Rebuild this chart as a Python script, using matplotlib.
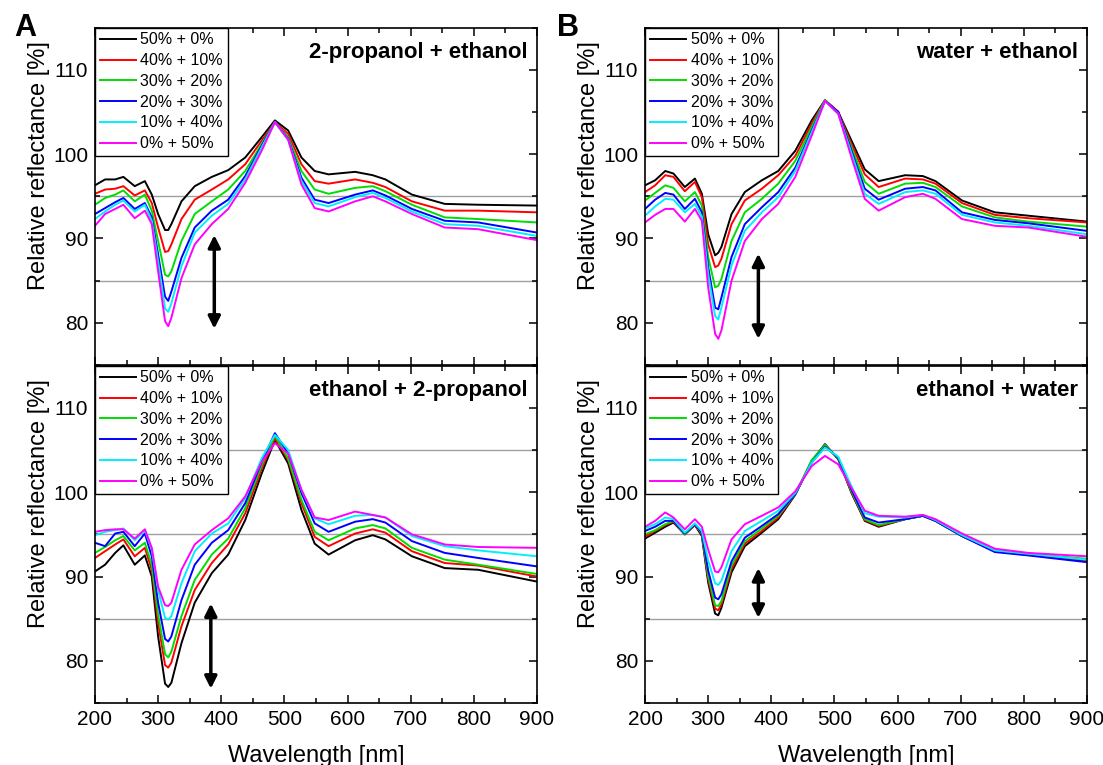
import matplotlib.pyplot as plt
from matplotlib.ticker import MultipleLocator

plt.rcParams['font.family'] = ['Liberation Sans', 'DejaVu Sans']

# wavelength grid [nm] where values were read
wavelength = [200, 216, 232, 245, 263, 279, 290, 300, 311, 316, 321, 337, 358, 385, 411,
              438, 464, 485, 506, 527, 548, 570, 612, 640, 660, 702, 754, 807, 900]

mix_labels = ['50% + 0%', '40% + 10%', '30% + 20%', '20% + 30%', '10% + 40%', '0% + 50%']
colors = ['black', 'red', '#00dd00', 'blue', '#00eeff', 'magenta']

# A top: 2-propanol + ethanol
propanol_ethanol = [
    [96.3, 97.0, 97.0, 97.3, 96.2, 96.8, 95.2, 92.9, 91.0, 91.0, 91.7, 94.4, 96.2, 97.3, 98.1,
     99.6, 102.0, 104.0, 102.8, 99.6, 98.0, 97.6, 97.9, 97.5, 97.0, 95.2, 94.1, 94.0, 93.9],
    [95.3, 95.8, 95.9, 96.2, 95.1, 95.7, 94.2, 91.3, 88.4, 88.5, 89.3, 92.3, 94.6, 95.8, 97.0,
     98.8, 101.6, 103.8, 102.4, 98.8, 96.8, 96.5, 97.0, 96.6, 96.1, 94.4, 93.3, 93.3, 93.1],
    [94.0, 94.8, 95.2, 95.7, 94.4, 95.2, 93.3, 89.7, 85.7, 85.5, 86.1, 89.7, 92.9, 94.4, 95.8,
     98.0, 101.2, 103.8, 102.0, 98.0, 95.8, 95.3, 96.0, 96.2, 95.6, 94.0, 92.5, 92.3, 91.9],
    [92.9, 93.6, 94.3, 94.8, 93.5, 94.2, 92.5, 88.1, 83.1, 82.6, 83.7, 87.7, 91.3, 93.3, 94.6,
     97.4, 101.0, 103.8, 101.8, 97.2, 94.6, 94.2, 95.2, 95.7, 95.1, 93.5, 92.1, 91.9, 90.7],
    [92.3, 93.2, 94.0, 94.5, 93.2, 94.0, 92.1, 87.3, 81.7, 81.3, 82.3, 86.7, 90.7, 92.7, 94.1,
     97.0, 100.8, 103.8, 101.7, 96.8, 94.2, 93.8, 94.9, 95.4, 94.8, 93.2, 91.7, 91.5, 90.3],
    [91.5, 92.9, 93.5, 94.0, 92.4, 93.3, 91.7, 86.1, 80.2, 79.6, 80.6, 85.3, 89.3, 91.7, 93.5,
     96.6, 100.4, 103.8, 101.7, 96.4, 93.6, 93.2, 94.4, 95.0, 94.4, 92.9, 91.3, 91.1, 89.8],
]

# A bottom: ethanol + 2-propanol
ethanol_propanol = [
    [90.6, 91.4, 92.8, 93.7, 91.4, 92.5, 90.0, 82.9, 77.3, 76.9, 77.4, 82.1, 86.9, 90.4, 92.6,
     96.7, 102.2, 106.2, 103.4, 97.9, 93.9, 92.6, 94.3, 94.9, 94.4, 92.4, 91.0, 90.8, 89.4],
    [92.2, 93.0, 93.8, 94.4, 92.4, 93.4, 90.8, 84.5, 79.5, 79.2, 79.8, 84.1, 88.4, 91.6, 93.8,
     97.5, 102.8, 106.4, 103.8, 98.7, 94.7, 93.6, 95.1, 95.6, 95.2, 93.0, 91.6, 91.3, 90.0],
    [92.8, 93.5, 94.3, 94.8, 93.1, 94.0, 91.4, 85.5, 80.8, 80.4, 81.1, 85.3, 89.6, 92.6, 94.5,
     98.1, 103.2, 106.7, 104.0, 99.1, 95.3, 94.3, 95.7, 96.1, 95.7, 93.4, 92.0, 91.4, 90.3],
    [94.0, 93.6, 95.1, 95.3, 93.6, 95.1, 92.4, 86.9, 82.6, 82.3, 82.9, 87.2, 91.4, 94.0, 95.5,
     98.7, 103.6, 107.0, 104.6, 99.9, 96.3, 95.3, 96.5, 96.8, 96.4, 94.2, 92.8, 92.2, 91.2],
    [94.9, 95.3, 95.5, 95.7, 94.3, 95.5, 93.2, 88.4, 85.1, 84.9, 85.3, 89.2, 93.0, 95.1, 96.3,
     99.3, 104.0, 106.8, 105.0, 100.3, 96.9, 96.2, 97.2, 97.3, 97.0, 94.8, 93.6, 93.1, 92.4],
    [95.3, 95.5, 95.6, 95.6, 94.5, 95.6, 93.4, 88.8, 86.6, 86.5, 86.9, 90.8, 93.8, 95.5, 96.9,
     99.5, 103.6, 105.8, 104.6, 100.3, 97.0, 96.7, 97.7, 97.3, 97.0, 95.0, 93.8, 93.5, 93.4],
]

# B top: water + ethanol
water_ethanol = [
    [96.3, 96.9, 98.0, 97.7, 96.1, 97.1, 95.3, 90.5, 88.0, 88.3, 89.0, 92.9, 95.5, 96.9, 98.0,
     100.4, 104.0, 106.4, 105.0, 101.6, 98.2, 96.8, 97.5, 97.4, 96.8, 94.5, 93.1, 92.7, 92.0],
    [95.5, 96.3, 97.5, 97.3, 95.6, 96.7, 94.9, 89.3, 86.6, 86.8, 87.6, 91.7, 94.5, 95.9, 97.5,
     99.8, 103.6, 106.4, 105.0, 101.2, 97.6, 96.1, 97.1, 97.0, 96.5, 94.2, 92.8, 92.4, 91.9],
    [94.5, 95.4, 96.3, 96.0, 94.4, 95.5, 93.9, 87.8, 84.2, 84.4, 85.2, 89.7, 93.1, 94.7, 96.5,
     99.2, 103.2, 106.4, 104.8, 100.8, 96.7, 95.3, 96.5, 96.6, 96.1, 93.8, 92.5, 92.0, 91.4],
    [93.5, 94.6, 95.4, 95.2, 93.5, 94.7, 93.1, 86.6, 81.8, 81.6, 83.0, 87.8, 91.7, 93.7, 95.5,
     98.4, 102.8, 106.3, 105.0, 100.4, 95.9, 94.6, 95.9, 96.1, 95.7, 93.1, 92.2, 91.8, 90.9],
    [92.7, 93.8, 94.7, 94.6, 93.1, 94.1, 92.6, 85.8, 80.8, 80.4, 81.8, 86.8, 90.9, 93.1, 94.9,
     98.0, 102.6, 106.3, 104.8, 100.1, 95.3, 94.1, 95.5, 95.7, 95.3, 92.8, 91.9, 91.5, 90.5],
    [91.9, 92.8, 93.5, 93.5, 92.0, 93.5, 92.1, 84.2, 78.7, 78.1, 79.1, 85.0, 89.7, 92.3, 94.1,
     97.3, 102.2, 106.3, 104.8, 99.6, 94.7, 93.3, 94.9, 95.3, 94.7, 92.3, 91.5, 91.3, 90.2],
]

# B bottom: ethanol + water
ethanol_water = [
    [94.5, 95.2, 95.9, 96.4, 95.0, 96.1, 94.8, 89.3, 85.6, 85.4, 86.3, 90.5, 93.6, 95.2, 96.8,
     99.7, 103.7, 105.7, 103.9, 99.9, 96.6, 95.9, 96.8, 97.2, 96.6, 94.8, 93.0, 92.6, 91.8],
    [94.7, 95.4, 96.1, 96.5, 95.0, 96.1, 95.0, 89.7, 86.2, 86.0, 86.7, 90.9, 93.9, 95.4, 97.0,
     99.8, 103.7, 105.6, 104.0, 100.0, 96.7, 96.0, 96.8, 97.2, 96.6, 94.8, 93.0, 92.6, 91.9],
    [95.0, 95.5, 96.2, 96.6, 95.0, 96.2, 95.1, 90.1, 86.6, 86.5, 87.1, 91.3, 94.2, 95.7, 97.2,
     99.8, 103.8, 105.6, 104.0, 100.1, 96.8, 96.1, 96.8, 97.2, 96.6, 94.8, 93.1, 92.7, 92.1],
    [95.4, 95.9, 96.6, 96.6, 95.1, 96.2, 95.2, 90.7, 87.5, 87.3, 87.9, 91.8, 94.6, 96.0, 97.4,
     99.8, 103.5, 105.4, 104.1, 100.3, 97.0, 96.4, 96.8, 97.2, 96.6, 94.8, 92.9, 92.5, 91.7],
    [95.7, 96.2, 97.0, 96.8, 95.2, 96.3, 95.4, 91.9, 89.2, 89.0, 89.5, 93.0, 95.4, 96.6, 97.8,
     99.9, 103.5, 105.3, 104.2, 100.7, 97.5, 97.1, 97.0, 97.3, 96.7, 94.9, 93.1, 92.7, 92.0],
    [95.9, 96.6, 97.6, 97.0, 95.6, 96.8, 95.9, 93.2, 90.6, 90.5, 91.1, 94.4, 96.2, 97.2, 98.2,
     100.1, 103.1, 104.3, 103.3, 100.5, 97.8, 97.2, 97.1, 97.3, 96.8, 95.1, 93.3, 92.8, 92.4],
]

panel_titles = ['2-propanol + ethanol', 'water + ethanol', 'ethanol + 2-propanol', 'ethanol + water']
panel_data = [propanol_ethanol, water_ethanol, ethanol_propanol, ethanol_water]
# double arrows: x, y start, y end
arrows = [(389, 90.4, 79.3), (379.5, 88.2, 78.1), (383.5, 86.8, 76.7), (379.5, 91.0, 85.1)]
gray_top = [85, 95]
gray_bottom = [85, 95, 105]

fig = plt.figure(figsize=(11.03, 7.65), dpi=100)
lefts = [0.0861, 0.5848]
bottoms = [0.5229, 0.0810]
w, h = 0.4007, 0.4410

for k in range(4):
    row, col = k // 2, k % 2
    ax = fig.add_axes([lefts[col], bottoms[row], w, h])
    for y in (gray_top if row == 0 else gray_bottom):
        ax.axhline(y, color='#a0a0a0', lw=1.0, zorder=0)
    for vals, lab, c in zip(panel_data[k], mix_labels, colors):
        ax.plot(wavelength, vals, color=c, lw=1.4, label=lab)
    ax.set_xlim(200, 900)
    ax.set_ylim(75, 115)
    ax.xaxis.set_major_locator(MultipleLocator(100))
    ax.xaxis.set_minor_locator(MultipleLocator(50))
    ax.yaxis.set_major_locator(MultipleLocator(10))
    ax.yaxis.set_minor_locator(MultipleLocator(5))
    ax.tick_params(which='both', direction='in', top=True, right=True, width=1.1, labelsize=15)
    ax.tick_params(which='major', length=6, pad=5)
    ax.tick_params(which='minor', length=3.5)
    for s in ax.spines.values():
        s.set_linewidth(1.2)
    if row == 0:
        ax.tick_params(labelbottom=False)
    else:
        ax.set_xlabel('Wavelength [nm]', fontsize=17)
        ax.xaxis.set_label_coords(0.5, -0.125)
    ax.set_ylabel('Relative reflectance [%]', fontsize=17)
    ax.yaxis.set_label_coords(-0.102, 0.59)
    leg = ax.legend(loc='upper left', bbox_to_anchor=(0, 1), borderaxespad=0, fontsize=11.5,
                    handlelength=2.25, handletextpad=0.3, labelspacing=0.36, borderpad=0.3,
                    fancybox=False, framealpha=1, edgecolor='black')
    leg.get_frame().set_linewidth(1.0)
    ax.text(0.98, 0.925, panel_titles[k], transform=ax.transAxes, ha='right', va='center',
            fontsize=16, fontweight='bold')
    ax_x, y0, y1 = arrows[k]
    ax.annotate('', xy=(ax_x, y1), xytext=(ax_x, y0),
                arrowprops=dict(arrowstyle='<|-|>', color='black', lw=2.5, mutation_scale=18,
                                shrinkA=0, shrinkB=0))

fig.text(0.0227, 0.963, 'A', fontsize=22, fontweight='bold', ha='center', va='center')
fig.text(0.515, 0.963, 'B', fontsize=22, fontweight='bold', ha='center', va='center')

fig.savefig('out.png', dpi=100)
